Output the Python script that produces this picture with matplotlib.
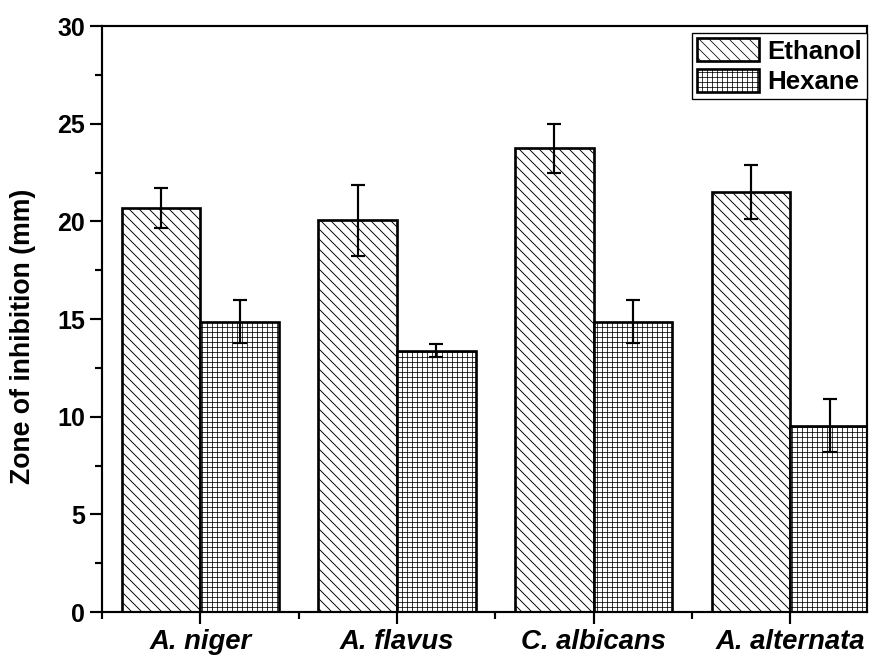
import matplotlib
matplotlib.use("Agg")
import matplotlib.pyplot as plt
import numpy as np
from matplotlib.ticker import MultipleLocator, FixedLocator

categories = ["A. niger", "A. flavus", "C. albicans", "A. alternata"]
ethanol = [20.7, 20.05, 23.75, 21.5]
ethanol_err = [1.03, 1.8, 1.25, 1.37]
hexane = [14.85, 13.37, 14.85, 9.53]
hexane_err = [1.1, 0.33, 1.1, 1.36]
series_names = ["Ethanol", "Hexane"]

plt.rcParams['font.family'] = ['Liberation Sans', 'DejaVu Sans']
plt.rcParams['hatch.color'] = '#3a3a3a'

DPI = 120
fig = plt.figure(figsize=(880 / DPI, 657 / DPI), dpi=DPI)
ax = fig.add_axes([102 / 880, 45 / 657, (867 - 102) / 880, (612 - 26) / 657])

x = np.arange(1, len(categories) + 1)
w = 0.4
plt.rcParams['hatch.linewidth'] = 0.55
ax.bar(x - w / 2, ethanol, w, facecolor='white', edgecolor='black', linewidth=1.6,
       hatch='\\\\\\\\', label=series_names[0], zorder=2)
plt.rcParams['hatch.linewidth'] = 0.45
ax.bar(x + w / 2, hexane, w, facecolor='white', edgecolor='black', linewidth=1.6,
       hatch='++++', label=series_names[1], zorder=2)
ax.errorbar(x - w / 2, ethanol, yerr=ethanol_err, fmt='none', ecolor='black',
            elinewidth=1.3, capsize=4, capthick=1.3, zorder=3)
ax.errorbar(x + w / 2, hexane, yerr=hexane_err, fmt='none', ecolor='black',
            elinewidth=1.3, capsize=4, capthick=1.3, zorder=3)

ax.set_xlim(0.5, 4.39)
ax.set_ylim(0, 30)
ax.set_xticks(x)
ax.set_xticklabels(categories, fontsize=16.5, fontweight='bold', fontstyle='italic')
ax.xaxis.set_minor_locator(FixedLocator([0.5, 1.5, 2.5, 3.5]))
ax.yaxis.set_major_locator(MultipleLocator(5))
ax.yaxis.set_minor_locator(MultipleLocator(2.5))
for lab in ax.get_yticklabels():
    lab.set_fontsize(15)
    lab.set_fontweight('bold')

ax.tick_params(axis='both', which='major', direction='out', length=7, width=1.3, pad=3)
ax.tick_params(axis='both', which='minor', direction='out', length=4, width=1.3)
ax.tick_params(top=False, right=False, which='both')
for s in ax.spines.values():
    s.set_linewidth(1.3)

ax.set_ylabel("Zone of inhibition (mm)", fontsize=16, fontweight='bold')
ax.yaxis.set_label_coords(-0.086, 0.47)

leg = ax.legend(loc='upper right', bbox_to_anchor=(1.0, 0.988),
                prop={'weight': 'bold', 'size': 15.5},
                handlelength=2.4, handleheight=1.0, labelspacing=0.2,
                handletextpad=0.3, borderpad=0.2, borderaxespad=0.0,
                fancybox=False, edgecolor='black', framealpha=1)
leg.get_frame().set_linewidth(0.8)

fig.savefig("out.png", dpi=DPI)
